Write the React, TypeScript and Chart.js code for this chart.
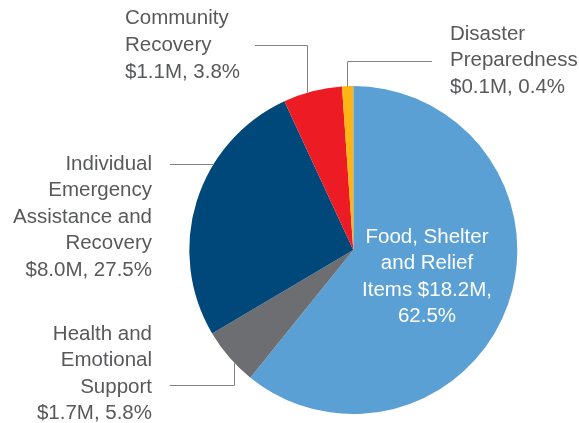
import { useEffect, useRef } from 'react';
import { Chart, registerables } from 'chart.js';

Chart.register(...registerables);

const categories = [
  'Food, Shelter and Relief Items',
  'Health and Emotional Support',
  'Individual Emergency Assistance and Recovery',
  'Community Recovery',
  'Disaster Preparedness',
];
// slice shares as drawn in the picture (degrees / 3.6)
const sliceShares = [60.8, 5.7, 26.6, 5.8, 1.1];
const amountLabels = ['$18.2M', '$1.7M', '$8.0M', '$1.1M', '$0.1M'];
const percentLabels = ['62.5%', '5.8%', '27.5%', '3.8%', '0.4%'];
const nameLines = [
  ['Food, Shelter', 'and Relief', 'Items $18.2M,'],
  ['Health and', 'Emotional', 'Support'],
  ['Individual', 'Emergency', 'Assistance and', 'Recovery'],
  ['Community', 'Recovery'],
  ['Disaster', 'Preparedness'],
];
const sliceColors = ['#5aa0d5', '#6d6e71', '#00487a', '#ed1c24', '#fdb515'];

// label layout
const labelPos = [
  { x: 427, y: 243, align: 'center', color: '#ffffff', lh: 26.3, full: false },
  { x: 152, y: 339.7, align: 'right', color: '#58595b', lh: 26.5, full: true },
  { x: 152, y: 169.7, align: 'right', color: '#58595b', lh: 26.5, full: true },
  { x: 125, y: 24.3, align: 'left', color: '#58595b', lh: 26.7, full: true },
  { x: 450, y: 39.7, align: 'left', color: '#58595b', lh: 26.5, full: true },
];
const leaders: Array<null | { kind: string; frac: number; fromX: number; lineY?: number }> = [
  null,
  { kind: 'hv', frac: 0.39, fromX: 170, lineY: 385.5 },
  { kind: 'h', frac: 0.65, fromX: 170 },
  { kind: 'hv', frac: 0.4, fromX: 255, lineY: 45.5 },
  { kind: 'hv', frac: 0.4, fromX: 432, lineY: 61.5 },
];

const labelPlugin = {
  id: 'sliceLabels',
  afterDatasetsDraw(chart: any) {
    const ctx = chart.ctx as CanvasRenderingContext2D;
    const arcs = chart.getDatasetMeta(0).data as any[];
    ctx.save();
    ctx.strokeStyle = '#808285';
    ctx.lineWidth = 1;
    leaders.forEach((ld, i) => {
      if (!ld) return;
      const arc = arcs[i];
      const { x, y, startAngle, endAngle, outerRadius } = arc.getProps(
        ['x', 'y', 'startAngle', 'endAngle', 'outerRadius'],
        true
      );
      const a = startAngle + ld.frac * (endAngle - startAngle);
      const ax = x + outerRadius * Math.cos(a);
      const ay = y + outerRadius * Math.sin(a);
      const axr = Math.round(ax) + 0.5;
      ctx.beginPath();
      if (ld.kind === 'hv') {
        ctx.moveTo(ld.fromX, ld.lineY as number);
        ctx.lineTo(axr, ld.lineY as number);
        ctx.lineTo(axr, ay);
      } else {
        const yr = Math.round(ay) + 0.5;
        ctx.moveTo(ld.fromX, yr);
        ctx.lineTo(ax, yr);
      }
      ctx.stroke();
    });
    ctx.font = "20.5px 'Liberation Sans', Arial, sans-serif";
    ctx.textBaseline = 'alphabetic';
    labelPos.forEach((p, i) => {
      const lines = p.full
        ? [...nameLines[i], `${amountLabels[i]}, ${percentLabels[i]}`]
        : [...nameLines[i], percentLabels[i]];
      ctx.fillStyle = p.color;
      ctx.textAlign = p.align as CanvasTextAlign;
      lines.forEach((t, k) => ctx.fillText(t, p.x, p.y + k * p.lh));
    });
    ctx.restore();
  },
};

export default function App() {
  const ref = useRef<HTMLCanvasElement>(null);
  useEffect(() => {
    if (!ref.current) return;
    const chart = new Chart(ref.current, {
      type: 'pie',
      data: {
        labels: categories,
        datasets: [
          {
            data: sliceShares,
            backgroundColor: sliceColors,
            borderWidth: 0,
          },
        ],
      },
      options: {
        responsive: false,
        animation: false,
        layout: { padding: { top: 86, bottom: 9, left: 189.3, right: 61.7 } },
        plugins: { legend: { display: false }, tooltip: { enabled: false } },
      },
      plugins: [labelPlugin],
    });
    return () => chart.destroy();
  }, []);
  return (
    <div style={{ position: 'absolute', left: 0, top: 0, width: 579, height: 423, background: '#fff' }}>
      <canvas ref={ref} width={579} height={423} />
    </div>
  );
}
